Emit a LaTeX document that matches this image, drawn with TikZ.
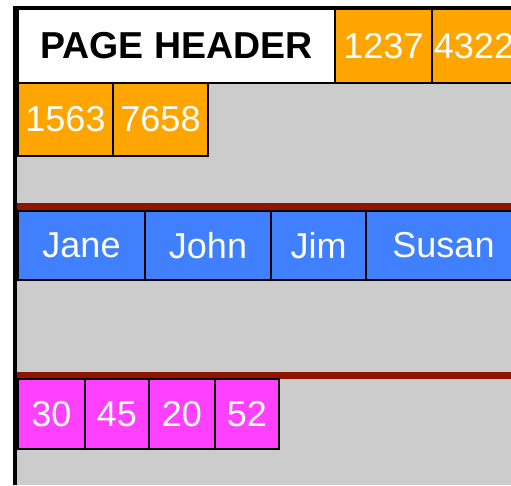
\documentclass[tikz,border=0pt]{standalone}
\usepackage{fontspec}
\setmainfont{Liberation Sans}
\usetikzlibrary{positioning}
\definecolor{pagegray}{HTML}{CCCCCC}
\definecolor{slot}{HTML}{FFA500}
\definecolor{names}{HTML}{4080FF}
\definecolor{ages}{HTML}{FF40FF}
\definecolor{rowline}{HTML}{901400}

\begin{document}
\begin{tikzpicture}[x=1pt,y=-1pt,node distance=0pt,every node/.style={draw,line width=1.5pt,outer sep=0pt,inner sep=0pt,text=white,font=\fontsize{36}{40}\selectfont}]
\useasboundingbox (0,0) rectangle (511,485);
\clip (0,0) rectangle (511,485);
\fill[pagegray] (15,8) rectangle (511,485);
% page header and slot numbers
\node[fill=white,text=black,font=\fontsize{37.5}{40}\selectfont\bfseries,minimum width=317pt,minimum height=74pt,anchor=north west] (header) at (18,9) {PAGE HEADER};
\node[fill=slot,minimum width=97pt,minimum height=74pt,right=of header] (s1) {1237};
\node[fill=slot,minimum width=84pt,minimum height=74pt,right=of s1] (s2) {4322};
\node[fill=slot,minimum width=95pt,minimum height=73pt,anchor=north west] (s3) at (header.south west) {1563};
\node[fill=slot,minimum width=95pt,minimum height=73pt,right=of s3] (s4) {7658};
% first record
\fill[rowline] (15,203) rectangle (511,211);
\node[fill=names,minimum width=127pt,minimum height=69pt,anchor=north west] (jane) at (18,211) {Jane};
\node[fill=names,minimum width=126pt,minimum height=69pt,right=of jane] (john) {John};
\node[fill=names,minimum width=95pt,minimum height=69pt,right=of john] (jim) {Jim};
\node[fill=names,minimum width=155pt,minimum height=69pt,right=of jim] (susan) {Susan};
% second record
\fill[rowline] (16,372) rectangle (511,379);
\node[fill=ages,minimum width=67pt,minimum height=70pt,anchor=north west] (a1) at (18,379) {30};
\node[fill=ages,minimum width=64pt,minimum height=70pt,right=of a1] (a2) {45};
\node[fill=ages,minimum width=66pt,minimum height=70pt,right=of a2] (a3) {20};
\node[fill=ages,minimum width=64pt,minimum height=70pt,right=of a3] (a4) {52};
% page frame
\draw[line width=4pt] (15,485) -- (15,8) -- (511,8);
\end{tikzpicture}
\end{document}
